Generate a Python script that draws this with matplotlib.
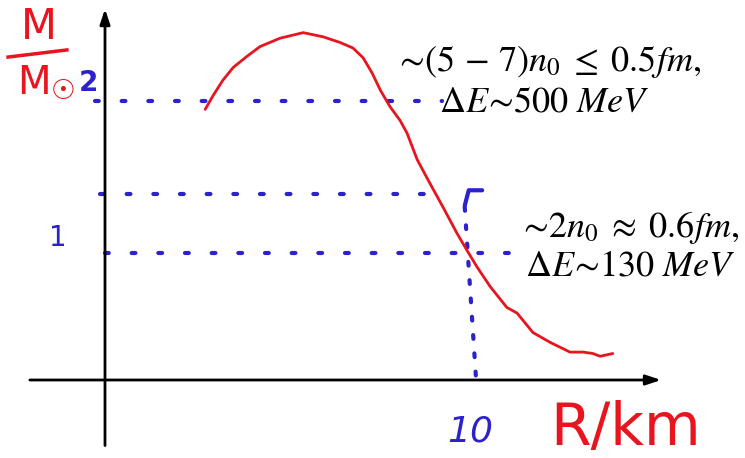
import matplotlib
matplotlib.use("Agg")
import matplotlib.pyplot as plt

plt.rcParams['mathtext.fontset'] = 'stix'

# ---- data ----
# red M(R) curve: radius in km, mass in solar masses
curve_R = [2.76, 2.98, 3.25, 3.53, 3.91, 4.27, 4.82, 5.46, 6.01, 6.47, 6.83,
           7.11, 7.36, 7.58, 7.85, 8.13, 8.32, 8.60, 8.95, 9.31, 9.70, 9.97,
           10.25, 10.61, 11.07, 11.35, 11.79, 12.26, 12.81, 13.17, 13.44,
           13.64, 13.99]
curve_M = [1.94, 2.04, 2.15, 2.24, 2.32, 2.39, 2.45, 2.49, 2.46, 2.42, 2.38,
           2.31, 2.20, 2.08, 1.96, 1.86, 1.77, 1.58, 1.41, 1.24, 1.05, 0.93,
           0.81, 0.67, 0.52, 0.48, 0.34, 0.27, 0.20, 0.20, 0.19, 0.17, 0.19]

# blue dotted guide levels
level_M = [2.00, 1.33, 0.91]
level_R_start = [-0.28, -0.14, 0.0]
level_R_end = [9.28, 9.09, 11.49]
guide_R_top = 9.97
guide_R_bot = 10.22
guide_M_top = 1.36
guide_M_bot = 0.014

tick_labels_y = ['2', '1']
tick_label_x = '10'
notes = [r'$\sim\!(5\,-\,7)n_0\;\leq\;0.5fm,$',
         r'$\Delta E\!{\sim}\!500\ MeV$',
         r'$\sim\!2n_0\;\approx\;0.6fm,$',
         r'$\Delta E\!{\sim}\!130\ MeV$']

red = '#e8141e'
blue = '#2b22cc'

fig = plt.figure(figsize=(7.45, 4.58), dpi=100)
ax = fig.add_axes([0, 0, 1, 1])
px_x = 36.3
px_y = 139.5
ax.set_xlim(-105 / px_x, (745 - 105) / px_x)
ax.set_ylim(-(458 - 380) / px_y, 380 / px_y)
ax.axis('off')

# axes arrows
ax.annotate('', xy=(0, 2.66), xytext=(0, -0.47),
            arrowprops=dict(arrowstyle='-|>,head_width=0.3,head_length=0.9',
                            lw=2, color='black', shrinkA=0, shrinkB=0))
ax.annotate('', xy=(15.32, 0), xytext=(-2.07, 0),
            arrowprops=dict(arrowstyle='-|>,head_width=0.3,head_length=0.9',
                            lw=2, color='black', shrinkA=0, shrinkB=0))

# blue dotted guides
for m, r0, r1 in zip(level_M, level_R_start, level_R_end):
    ax.plot([r0, r1], [m, m], color=blue, lw=3, ls=(0, (0.9, 5.5)),
            dash_capstyle='round')
ax.plot([guide_R_top - 0.06, guide_R_bot], [guide_M_top - 0.12, guide_M_bot],
        color=blue, lw=3, ls=(0, (0.9, 3.5)), dash_capstyle='round')
# bracket cap
ax.plot([guide_R_top + 0.42, guide_R_top + 0.05, guide_R_top - 0.06],
        [guide_M_top, guide_M_top, guide_M_top - 0.11], color=blue, lw=3,
        solid_capstyle='round')

# red curve
ax.plot(curve_R, curve_M, color=red, lw=2, solid_capstyle='round',
        solid_joinstyle='round')

# tick labels
ax.text(-0.47, 2.13, tick_labels_y[0], color=blue, fontsize=20,
        fontweight='bold', ha='center', va='center')
ax.text(-1.3, 1.02, tick_labels_y[1], color=blue, fontsize=20,
        ha='center', va='center')
ax.text(10.06, -0.37, tick_label_x, color=blue, fontsize=26, style='italic',
        ha='center', va='center')

# axis labels (red, hand-written style)
ax.text(-1.82, 2.53, 'M', color=red, fontsize=30, ha='center', va='center')
ax.plot([-2.67, -1.05], [2.315, 2.366], color=red, lw=2.5)
ax.text(-1.96, 2.13, 'M', color=red, fontsize=28, ha='center', va='center')
ax.text(-1.14, 2.07, '\u2609', color=red, fontsize=20, ha='center',
        va='center')
ax.text(14.33, -0.35, 'R/km', color=red, fontsize=42, ha='center',
        va='center')

# annotations
ax.text(12.18, 2.28, notes[0], fontsize=26, ha='center', va='center')
ax.text(12.09, 2.0, notes[1], fontsize=26, ha='center', va='center')
ax.text(14.43, 1.09, notes[2], fontsize=26, ha='center', va='center')
ax.text(14.46, 0.824, notes[3], fontsize=26, ha='center', va='center')

fig.savefig('out.png', dpi=100)
